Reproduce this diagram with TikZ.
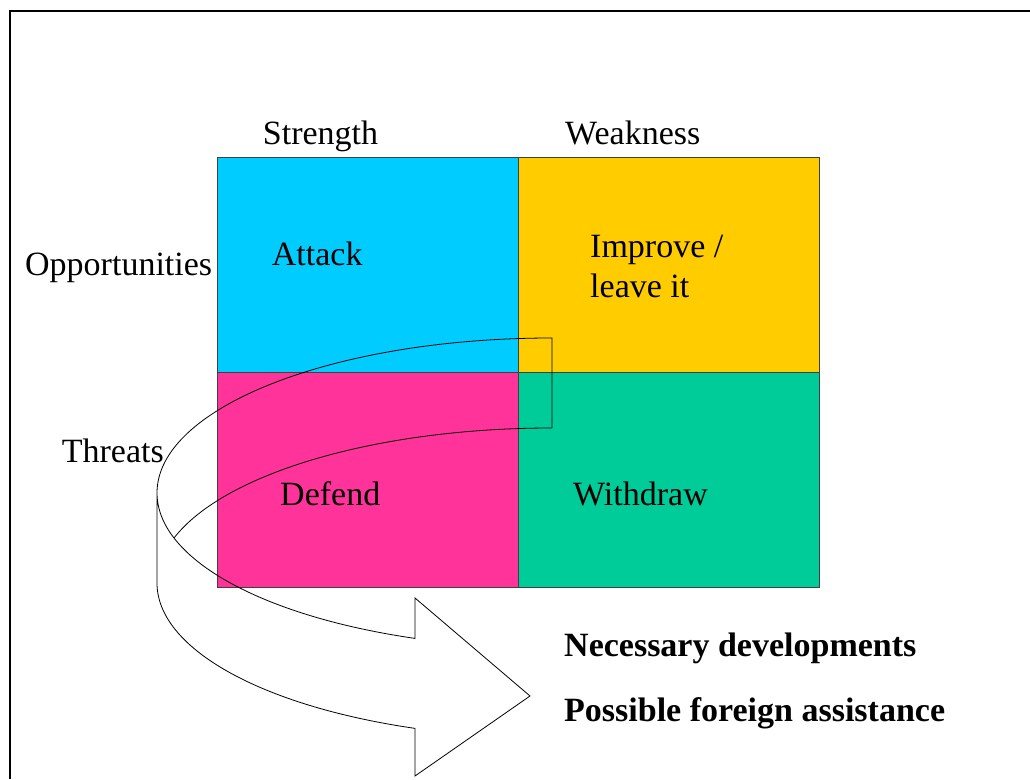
\documentclass[tikz,border=0pt]{standalone}
\usepackage{fontspec}
\setmainfont{Liberation Serif}
\definecolor{swotcyan}{HTML}{00CCFF}
\definecolor{swotyellow}{HTML}{FFCC00}
\definecolor{swotpink}{HTML}{FF3399}
\definecolor{swotgreen}{HTML}{00CC99}
\begin{document}
\begin{tikzpicture}[x=1pt,y=1pt,
  cell/.style={draw=black!75,line width=0.9pt},
  lbl/.style={anchor=base west,inner sep=0pt,font=\fontsize{34}{40}\selectfont,align=left},
  blbl/.style={lbl,font=\fontsize{34}{40}\selectfont\bfseries},
  band/.style={draw=black,line width=0.8pt,line join=miter},
  frameline/.style={draw=black,line width=2pt}]
\useasboundingbox (0,0) rectangle (1030,779);

% frame (top and left edges)
\draw[frameline] (10,0) -- (10,768) -- (1030,768);

% the four quadrants
\fill[swotcyan]   (217,407) rectangle (518,622);
\fill[swotyellow] (518,407) rectangle (819,622);
\fill[swotpink]   (217,192) rectangle (518,407);
\fill[swotgreen]  (518,192) rectangle (819,407);
\draw[cell] (217,192) rectangle (819,622);
\draw[cell] (518,192) -- (518,622);
\draw[cell] (217,407) -- (819,407);

% curved U-turn arrow (outline only)
\draw[band] (552,351) -- (552,441)
  arc[start angle=90,end angle=180,x radius=395pt,y radius=155pt]
  -- (157,196)
  arc[start angle=180,end angle=249.7,x radius=395pt,y radius=155pt]
  -- (415,3) -- (530,83) -- (415,181) -- (415,140.6)
  arc[start angle=249.7,end angle=180,x radius=395pt,y radius=155pt];
\draw[band] (552,351)
  arc[start angle=90,end angle=163.1,x radius=395pt,y radius=155pt];

% labels (base of a two-line label sits on its last line)
\node[lbl] (strength) at (262.7,634) {Strength};
\node[lbl] (weakness) at (565,634) {Weakness};
\node[lbl] (opps) at (25,503) {Opportunities};
\node[lbl] (threats) at (61.7,316) {Threats};
\node[lbl] (attack) at (271.7,513) {Attack};
\node[lbl] (improve) at (590,481) {Improve /\\leave it};
\node[lbl] (defend) at (280,273) {Defend};
\node[lbl] (withdraw) at (573,273) {Withdraw};
\node[blbl] (needs) at (564,122) {Necessary developments};
\node[blbl] (foreign) at (564,58) {Possible foreign assistance};
\end{tikzpicture}
\end{document}
